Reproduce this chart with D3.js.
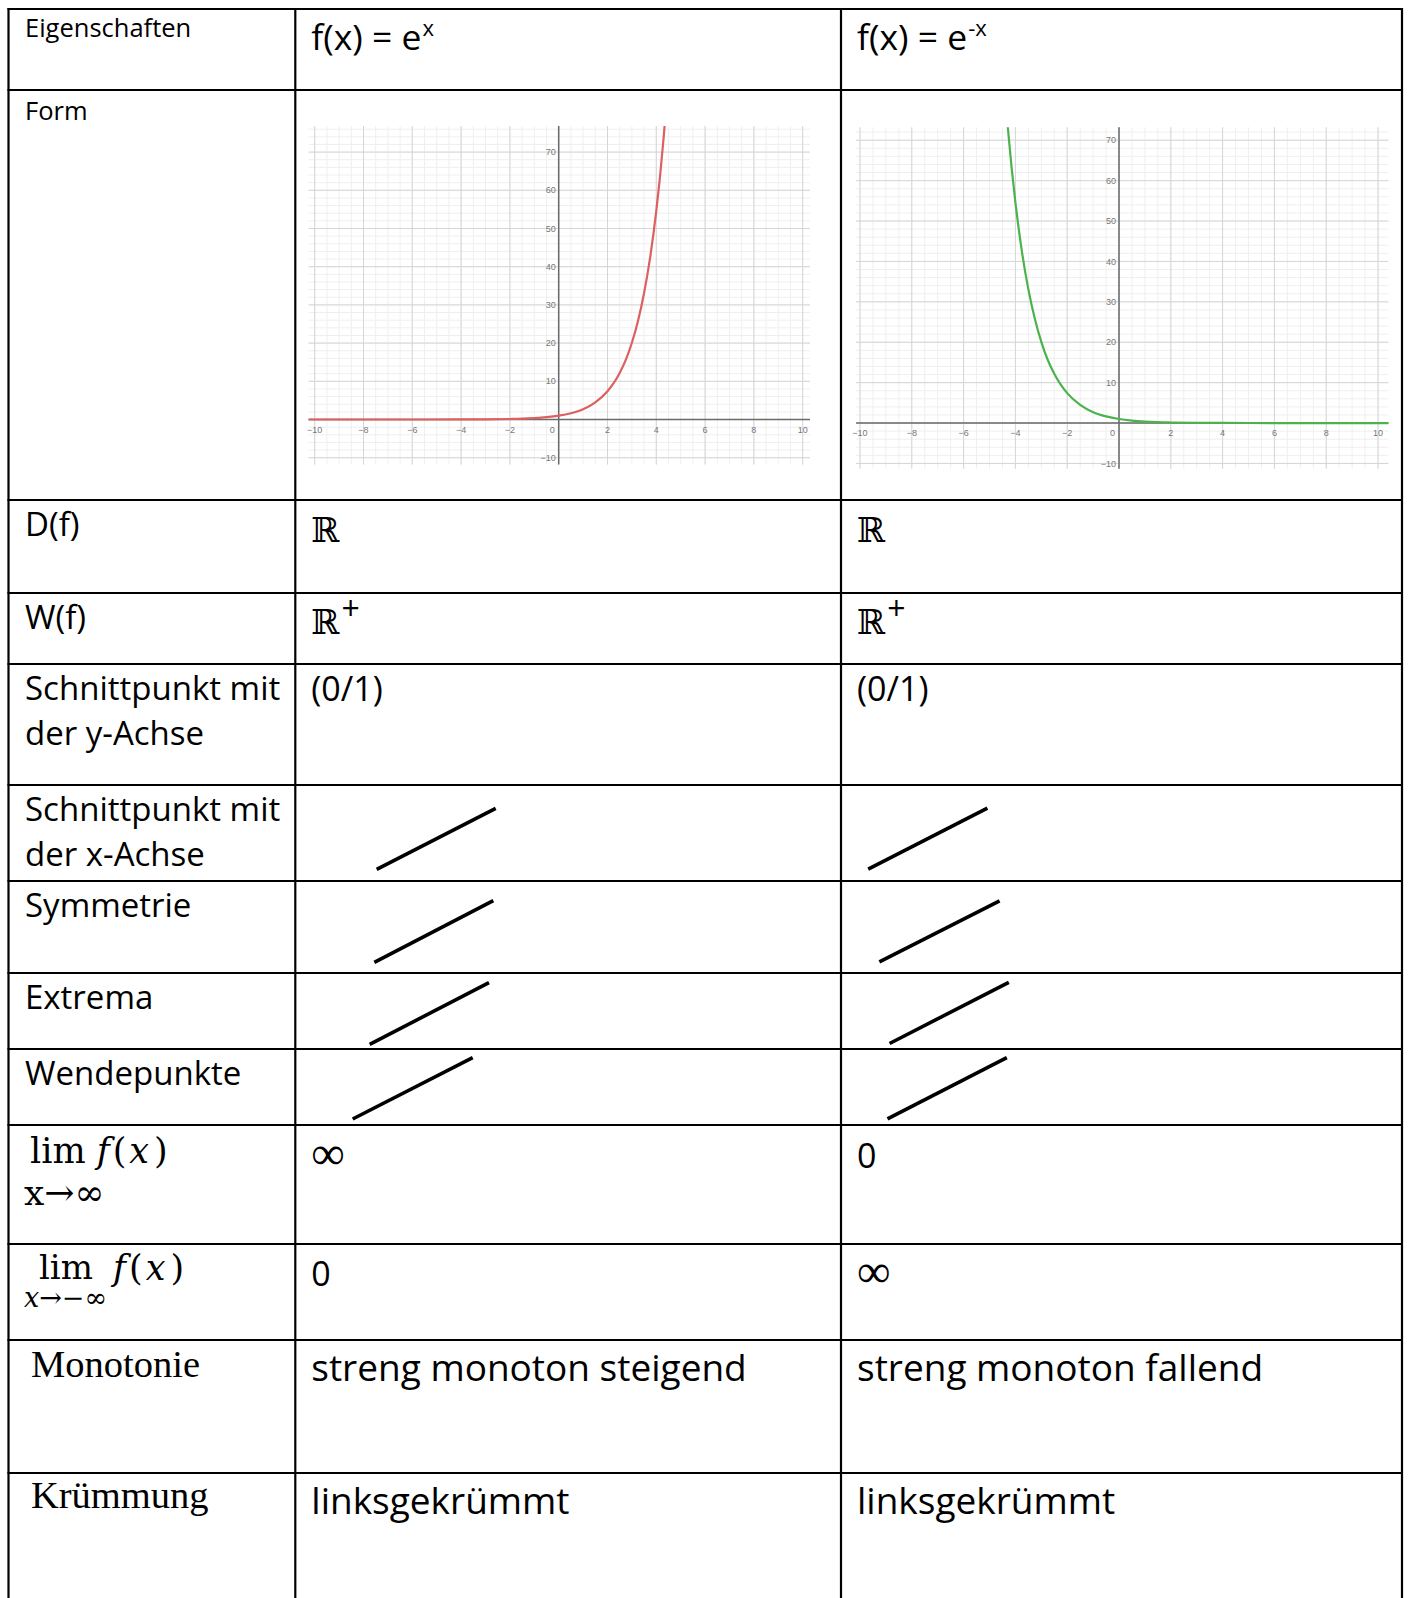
<!DOCTYPE html>
<html>
<head>
<meta charset="utf-8">
<script src="https://cdn.jsdelivr.net/npm/d3@7"></script>
<style>
  body { margin: 0; background: #fff; }
</style>
</head>
<body>
<script>
// table lines
var rowLines = [9, 90, 500, 593, 664, 785, 881, 973, 1049, 1125, 1244, 1340, 1473];
var colLines = [8.5, 295.3, 841, 1402];
var tableBottom = 1598;

// curve samples
var riseX = [-10.3, -6, -4, -3, -2, -1.5, -1, -0.5, 0, 0.5, 1, 1.5, 2, 2.25, 2.5, 2.75, 3, 3.25, 3.5, 3.75, 4, 4.15, 4.3, 4.4];
var riseY = [0, 0.002, 0.02, 0.05, 0.14, 0.22, 0.37, 0.61, 1, 1.65, 2.7, 4.5, 7.4, 9.5, 12.2, 15.6, 20.1, 25.8, 33.1, 42.5, 54.6, 63.4, 73.7, 81.5];
var fallX = [-4.4, -4.3, -4.15, -4, -3.75, -3.5, -3.25, -3, -2.75, -2.5, -2.25, -2, -1.5, -1, -0.5, 0, 0.5, 1, 1.5, 2, 3, 4, 6, 10.5];
var fallY = [81.5, 73.7, 63.4, 54.6, 42.5, 33.1, 25.8, 20.1, 15.6, 12.2, 9.5, 7.4, 4.5, 2.7, 1.65, 1, 0.61, 0.37, 0.22, 0.14, 0.05, 0.02, 0.002, 0];

var xTickLabels = [-10, -8, -6, -4, -2, 2, 4, 6, 8, 10];
var yTickLabels = [70, 60, 50, 40, 30, 20, 10, -10];

var sansLabels = ["D(f)", "W(f)", "Schnittpunkt mit|der y-Achse", "Schnittpunkt mit|der x-Achse", "Symmetrie", "Extrema", "Wendepunkte"];
var colHeads = [["f(x) = e", "x"], ["f(x) = e", "-x"]];
var yIntercept = ["(0/1)", "(0/1)"];
var limPlus = ["∞", "0"];
var limMinus = ["0", "∞"];
var monotony = ["streng monoton steigend", "streng monoton fallend"];
var curvature = ["linksgekrümmt", "linksgekrümmt"];

// "nicht vorhanden" strokes, relative to cell (left, top)
var slashRows = [5, 6, 7, 8];
var slashCells = [
  [[81.4, 84.3, 200.4, 23.3], [27.2, 84.2, 146.4, 23.1]],
  [[79, 81.3, 198, 19.7], [38.4, 80.9, 158.6, 19.8]],
  [[74.4, 71.3, 193.7, 9.7], [48.6, 70.5, 167.8, 9.3]],
  [[57.4, 70, 177.4, 8.7], [46.5, 69.9, 165.8, 8.7]]
];

var sans = "'Open Sans', 'Noto Sans', sans-serif";
var serifMath = "'DejaVu Serif', serif";
var serif = "'Liberation Serif', 'DejaVu Serif', serif";

var svg = d3.select("body").append("svg")
  .attr("width", 1408)
  .attr("height", 1598);

svg.append("rect").attr("width", 1408).attr("height", 1598).attr("fill", "#fff");

function txt(x, y, s, font, size) {
  return svg.append("text")
    .attr("x", x).attr("y", y)
    .attr("font-family", font)
    .attr("font-size", size)
    .attr("fill", "#000")
    .text(s);
}

// f(x) in math style, with the wider spacing of the original
function fOfX(t) {
  t.append("tspan").attr("font-style", "italic").text("f");
  t.append("tspan").attr("dx", 3).text("(");
  t.append("tspan").attr("dx", 3).attr("font-style", "italic").text("x");
  t.append("tspan").attr("dx", 5).text(")");
}

var textX = [25, colLines[1] + 16, colLines[2] + 16];

// ---------- graphs ----------
function graph(cfg) {
  var x = d3.scaleLinear().domain(cfg.xd).range(cfg.xr);
  var y = d3.scaleLinear().domain(cfg.yd).range(cfg.yr);
  var g = svg.append("g");

  var minorX = d3.range(Math.ceil(cfg.xd[0] * 2) / 2, cfg.xd[1], 0.5);
  var minorY = d3.range(Math.ceil(cfg.yd[0] / 2) * 2, cfg.yd[1], 2);
  g.selectAll(".mx").data(minorX).join("line")
    .attr("x1", d => x(d)).attr("x2", d => x(d))
    .attr("y1", cfg.yr[0]).attr("y2", cfg.yr[1])
    .attr("stroke", "#efefef").attr("stroke-width", 1);
  g.selectAll(".my").data(minorY).join("line")
    .attr("y1", d => y(d)).attr("y2", d => y(d))
    .attr("x1", cfg.xr[0]).attr("x2", cfg.xr[1])
    .attr("stroke", "#efefef").attr("stroke-width", 1);

  g.selectAll(".Mx").data(d3.range(-10, 11, 2)).join("line")
    .attr("x1", d => x(d)).attr("x2", d => x(d))
    .attr("y1", cfg.yr[0]).attr("y2", cfg.yr[1])
    .attr("stroke", "#d6d6d6").attr("stroke-width", 1);
  g.selectAll(".My").data(d3.range(-10, cfg.yd[1], 10)).join("line")
    .attr("y1", d => y(d)).attr("y2", d => y(d))
    .attr("x1", cfg.xr[0]).attr("x2", cfg.xr[1])
    .attr("stroke", "#d6d6d6").attr("stroke-width", 1);

  // axes
  g.append("line").attr("x1", cfg.xr[0]).attr("x2", cfg.xr[1])
    .attr("y1", y(0)).attr("y2", y(0))
    .attr("stroke", "#6a6a6a").attr("stroke-width", 1.5);
  g.append("line").attr("x1", x(0)).attr("x2", x(0))
    .attr("y1", cfg.yr[0]).attr("y2", cfg.yr[1])
    .attr("stroke", "#6a6a6a").attr("stroke-width", 1.5);

  var fmt = d => d < 0 ? "\u2212" + (-d) : String(d);
  g.selectAll(".xl").data(xTickLabels).join("text")
    .attr("x", d => x(d)).attr("y", y(0) + 13)
    .attr("text-anchor", "middle")
    .attr("font-family", "'Liberation Sans', Arial, sans-serif")
    .attr("font-size", 9).attr("fill", "#777")
    .text(fmt);
  g.append("text")
    .attr("x", x(0) - 4).attr("y", y(0) + 13)
    .attr("text-anchor", "end")
    .attr("font-family", "'Liberation Sans', Arial, sans-serif")
    .attr("font-size", 9).attr("fill", "#777")
    .text("0");
  g.selectAll(".yl").data(yTickLabels).join("text")
    .attr("x", x(0) - 3).attr("y", d => y(d))
    .attr("dy", "0.35em")
    .attr("text-anchor", "end")
    .attr("font-family", "'Liberation Sans', Arial, sans-serif")
    .attr("font-size", 9).attr("fill", "#777")
    .text(fmt);

  var clipId = "clip" + cfg.id;
  svg.append("clipPath").attr("id", clipId).append("rect")
    .attr("x", cfg.xr[0]).attr("y", cfg.yr[1])
    .attr("width", cfg.xr[1] - cfg.xr[0])
    .attr("height", cfg.yr[0] - cfg.yr[1]);

  var pts = cfg.xs.map((v, i) => [v, cfg.ys[i]]);
  g.append("path")
    .datum(pts)
    .attr("clip-path", "url(#" + clipId + ")")
    .attr("fill", "none")
    .attr("stroke", cfg.color)
    .attr("stroke-width", 2.2)
    .attr("d", d3.line().x(d => x(d[0])).y(d => y(d[1])).curve(d3.curveMonotoneX));
}

graph({ id: 1, xd: [-10.25, 10.3], xr: [308.6, 810], yd: [-11.8, 76.8], yr: [464.6, 126.1],
        xs: riseX, ys: riseY, color: "#dd5f5f" });
graph({ id: 2, xd: [-10.15, 10.4], xr: [856.1, 1388.4], yd: [-11.3, 73.2], yr: [468.7, 127.3],
        xs: fallX, ys: fallY, color: "#4cb34c" });

// ---------- table lines ----------
svg.selectAll(".hl").data(rowLines).join("line")
  .attr("x1", colLines[0] - 1).attr("x2", colLines[3] + 1)
  .attr("y1", d => d).attr("y2", d => d)
  .attr("stroke", "#000").attr("stroke-width", 2.2);
svg.selectAll(".vl").data(colLines).join("line")
  .attr("x1", d => d).attr("x2", d => d)
  .attr("y1", rowLines[0] - 1).attr("y2", tableBottom)
  .attr("stroke", "#000").attr("stroke-width", 2.2);

// ---------- header ----------
txt(25, 37, "Eigenschaften", sans, 25.5);
txt(25, 120, "Form", sans, 25.5);
colHeads.forEach(function (h, i) {
  var t = txt(textX[i + 1], 50, h[0], sans, 35.5);
  t.append("tspan").attr("font-size", 22).attr("dx", 1).attr("dy", -14).text(h[1]);
});

// ---------- left labels ----------
sansLabels.forEach(function (s, i) {
  var top = rowLines[i + 2];
  s.split("|").forEach(function (line, j) {
    txt(25, top + 36 + j * 45, line, sans, 33);
  });
});

// lim x -> inf
var l1 = txt(30, 1163, "lim ", serifMath, 35);
fOfX(l1);
txt(24, 1205, "x\u2192\u221e", serifMath, 36);

// lim x -> -inf
txt(39, 1279, "lim", serifMath, 34);
var l2 = txt(113, 1280, "", serifMath, 35);
fOfX(l2);
var s2 = txt(24, 1307, "", serifMath, 27);
s2.append("tspan").attr("font-style", "italic").text("x");
s2.append("tspan").text("\u2192\u2212\u221e");

txt(31, 1377, "Monotonie", serif, 38.5);
txt(31, 1508, "Krümmung", serif, 38.5);

// ---------- values ----------
function valueText(x0, yNum, yInf, s) {
  if (s === "∞") txt(x0, yInf, s, serif, 47);
  else txt(x0, yNum, s, sans, 34);
}

[0, 1].forEach(function (i) {
  var x0 = textX[i + 1];
  txt(x0, 542, "\u211d", serifMath, 34);
  var w = txt(x0, 634, "\u211d", serifMath, 34);
  w.append("tspan").attr("font-family", sans).attr("font-size", 32).attr("dx", 2).attr("dy", -14).text("+");
  txt(x0, 701, yIntercept[i], sans, 34);
  valueText(x0, 1168, 1169, limPlus[i]);
  valueText(x0, 1286, 1287, limMinus[i]);
  txt(x0, 1381, monotony[i], sans, 37);
  txt(x0, 1514, curvature[i], sans, 37);
});

// slashes for "none"
slashRows.forEach(function (r, k) {
  slashCells[k].forEach(function (c, i) {
    var left = colLines[i + 1], top = rowLines[r];
    svg.append("line")
      .attr("x1", left + c[0]).attr("y1", top + c[1])
      .attr("x2", left + c[2]).attr("y2", top + c[3])
      .attr("stroke", "#000").attr("stroke-width", 3.6);
  });
});
</script>
</body>
</html>
